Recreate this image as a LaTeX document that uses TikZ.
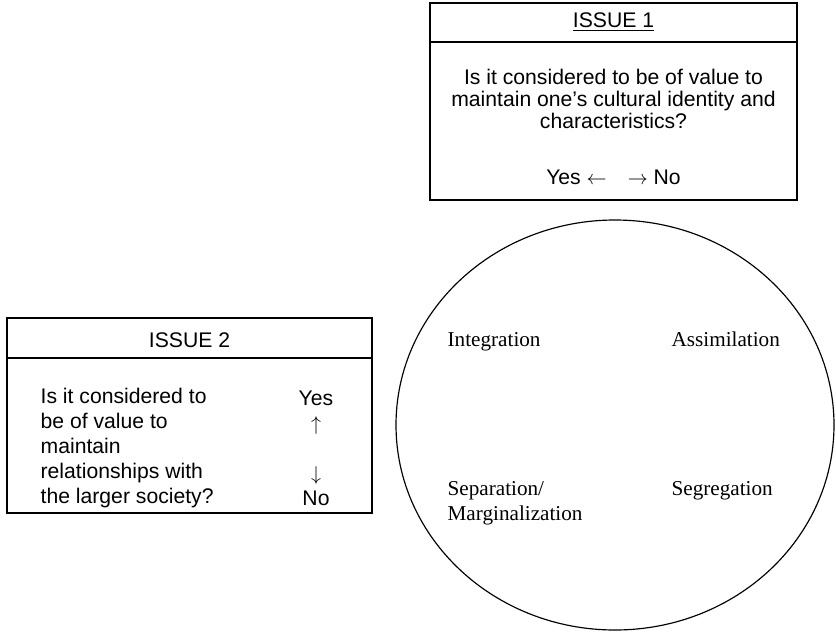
\documentclass[tikz,border=0pt]{standalone}
\usepackage{amsmath}
\usepackage{amssymb}
\usepackage{fontspec}
\setmainfont{Liberation Sans}
\newfontfamily\labelfont{Liberation Serif}
\usepackage{tikz}

\begin{document}
\begin{tikzpicture}[x=0.6pt,y=-0.6pt,line width=0.8pt]
\useasboundingbox (0,0) rectangle (836,631);

% the two issue boxes
\draw (430,3) rectangle (797,200);
\draw (430,42) -- (797,42);
\draw (7,318) rectangle (372,513);
\draw (7,358) -- (372,358);

\begin{scope}[every node/.style={inner sep=0pt,font=\fontsize{12.7}{13.2}\selectfont}]
\node (I1) at (613.5,22) {\underline{ISSUE 1}};
\node[align=center] (Q1) at (613.5,99) {Is it considered to be of value to\\maintain one's cultural identity and\\characteristics?};
\node (A1) at (613.5,177) {Yes $\leftarrow$\quad$\rightarrow$ No};

\node (I2) at (189.5,340) {ISSUE 2};
\node[align=left,anchor=west,font=\fontsize{12.7}{15}\selectfont] (Q2) at (40,448) {Is it considered to\\be of value to\\maintain\\relationships with\\the larger society?};
\node[align=center,font=\fontsize{12.7}{15}\selectfont] (A2) at (316,448) {Yes\\$\uparrow$\\\mbox{}\\$\downarrow$\\No};
\end{scope}

% the four outcomes
\draw[line width=0.7pt] (615,425) ellipse [x radius=219,y radius=205];
\begin{scope}[every node/.style={inner sep=0pt,anchor=base west,font=\labelfont\fontsize{12.7}{15}\selectfont}]
\node (integ) at (447,346) {Integration};
\node (assim) at (671,346) {Assimilation};
\node[align=left] (separ) at (447,520) {Separation/\\Marginalization};
\node (segreg) at (671,495) {Segregation};
\end{scope}
\end{tikzpicture}
\end{document}
